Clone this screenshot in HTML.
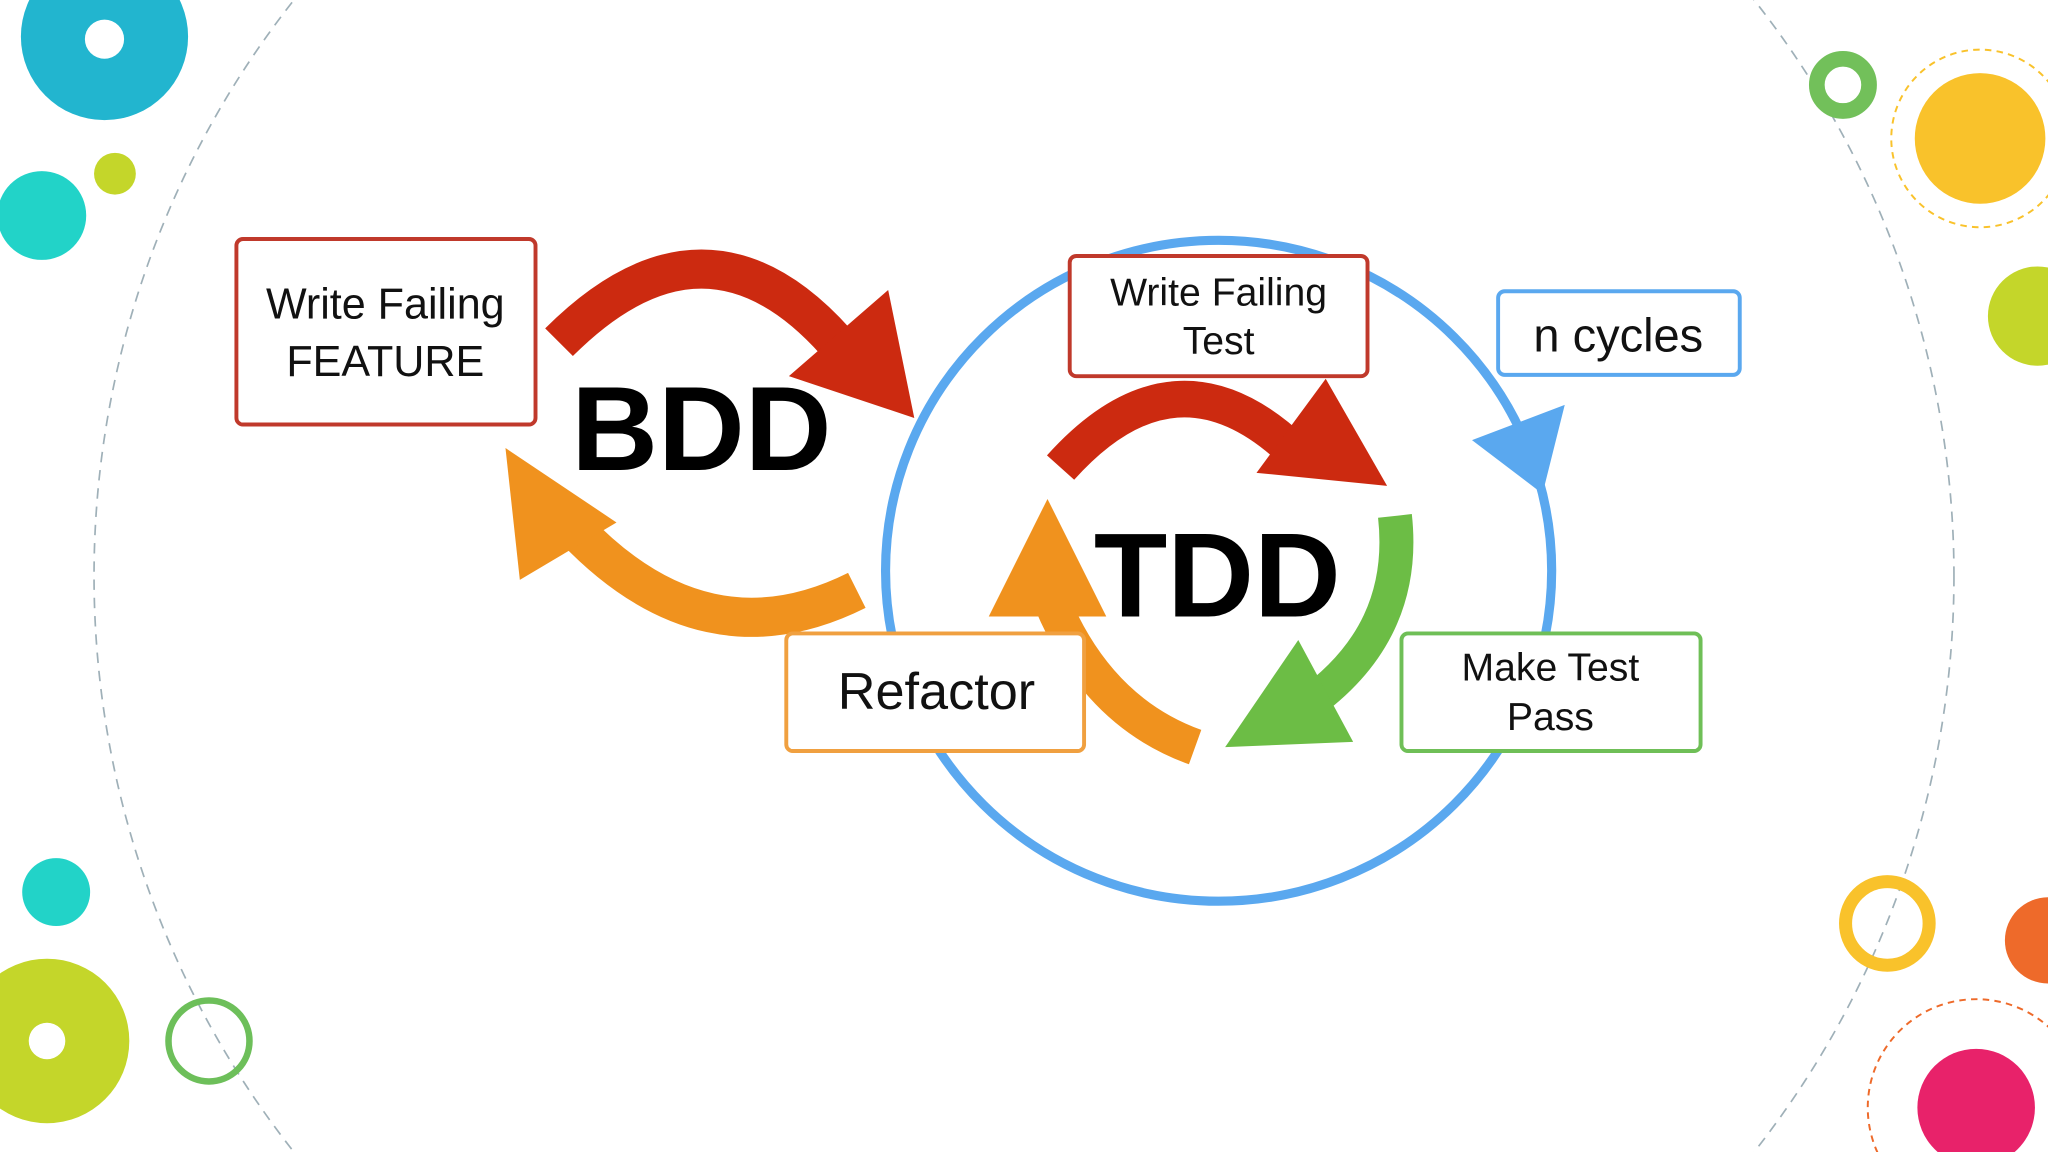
<!DOCTYPE html>
<html><head><meta charset="utf-8"><style>
html,body{margin:0;padding:0;background:#fff;width:2048px;height:1152px;overflow:hidden;}
svg{display:block;}
text{font-family:"Liberation Sans",Arial,sans-serif;}
</style></head><body>
<svg width="2048" height="1152" viewBox="0 0 1568 882" xmlns="http://www.w3.org/2000/svg">
<rect width="1568" height="882" fill="#fff"/>
<circle cx="784" cy="441" r="712" fill="none" stroke="#9fb0b8" stroke-width="1.3" stroke-dasharray="8,6"/>
<circle cx="80" cy="28" r="64" fill="#22b5cf"/>
<circle cx="80" cy="30" r="15" fill="#fff"/>
<circle cx="32" cy="165" r="34" fill="#22d3c8"/>
<circle cx="88" cy="133" r="16" fill="#c4d62a"/>
<circle cx="43" cy="683" r="26" fill="#22d3c8"/>
<circle cx="36" cy="797" r="63" fill="#c4d62a"/>
<circle cx="36" cy="797" r="14" fill="#fff"/>
<circle cx="160" cy="797" r="31" fill="none" stroke="#6dbf5a" stroke-width="5"/>
<circle cx="1411" cy="65" r="20" fill="none" stroke="#72c05a" stroke-width="12"/>
<circle cx="1516" cy="106" r="68" fill="none" stroke="#f9c22b" stroke-width="1.5" stroke-dasharray="5,4"/>
<circle cx="1516" cy="106" r="50" fill="#f9c22b"/>
<circle cx="1560" cy="242" r="38" fill="#c4d62a"/>
<circle cx="1445" cy="707" r="32" fill="none" stroke="#f9c22b" stroke-width="10"/>
<circle cx="1568" cy="720" r="33" fill="#ee6a2a"/>
<circle cx="1513" cy="848" r="83" fill="none" stroke="#ee6a2a" stroke-width="1.5" stroke-dasharray="5,4"/>
<circle cx="1513" cy="848" r="45" fill="#e8226a"/>
<ellipse cx="933" cy="437" rx="255" ry="253" fill="none" stroke="#5aa8ef" stroke-width="7"/>
<polygon points="1127,337 1198,310 1181,378" fill="#5aa8ef"/>
<path d="M428,262 Q540,150 640,262" fill="none" stroke="#cc2a10" stroke-width="30"/>
<polygon points="604,288 680,222 700,320" fill="#cc2a10"/>
<path d="M656,452 Q540,510 440,405" fill="none" stroke="#f0921e" stroke-width="30"/>
<polygon points="398,444 472,400 387,343" fill="#f0921e"/>
<path d="M812,358 Q900,260 990,345" fill="none" stroke="#cc2a10" stroke-width="28"/>
<polygon points="962,362 1015,290 1062,372" fill="#cc2a10"/>
<path d="M1068,395 Q1078,485 1000,540" fill="none" stroke="#6cbd45" stroke-width="26"/>
<polygon points="994,490 938,572 1036,568" fill="#6cbd45"/>
<path d="M915,572 Q840,545 805,460" fill="none" stroke="#f0921e" stroke-width="28"/>
<polygon points="757,472 802,382 847,472" fill="#f0921e"/>
<rect x="181" y="183" width="229" height="142" rx="5" fill="#fff" stroke="#c0392b" stroke-width="3"/>
<text x="295" y="244" font-size="33" text-anchor="middle" fill="#111">Write Failing</text>
<text x="295" y="288" font-size="33" text-anchor="middle" fill="#111">FEATURE</text>
<rect x="819" y="196" width="228" height="92" rx="5" fill="#fff" stroke="#c0392b" stroke-width="3"/>
<text x="933" y="234" font-size="30" text-anchor="middle" fill="#111">Write Failing</text>
<text x="933" y="271" font-size="30" text-anchor="middle" fill="#111">Test</text>
<rect x="1147" y="223" width="185" height="64" rx="5" fill="#fff" stroke="#5aa8ef" stroke-width="3"/>
<text x="1239" y="269" font-size="36" text-anchor="middle" fill="#111">n cycles</text>
<rect x="1073" y="485" width="229" height="90" rx="5" fill="#fff" stroke="#6fbf57" stroke-width="3"/>
<text x="1187" y="521" font-size="30" text-anchor="middle" fill="#111">Make Test</text>
<text x="1187" y="559" font-size="30" text-anchor="middle" fill="#111">Pass</text>
<rect x="602" y="485" width="228" height="90" rx="5" fill="#fff" stroke="#f0a040" stroke-width="3"/>
<text x="717" y="543" font-size="40" text-anchor="middle" fill="#111">Refactor</text>
<text x="537" y="360" font-size="92" font-weight="bold" text-anchor="middle" fill="#000">BDD</text>
<text x="932" y="472" font-size="92" font-weight="bold" text-anchor="middle" fill="#000">TDD</text>
</svg>
</body></html>
